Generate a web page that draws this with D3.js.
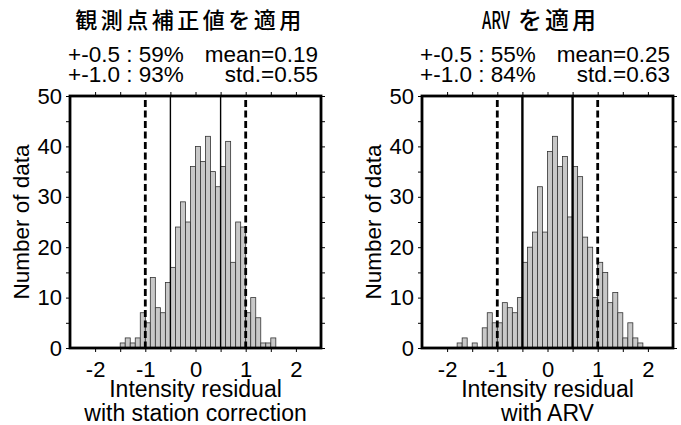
<!DOCTYPE html>
<html>
<head>
<meta charset="utf-8">
<script src="https://cdn.jsdelivr.net/npm/d3@7"></script>
<style>
  body { margin: 0; background: #fff; }
  text { font-family: "Liberation Sans", Arial, sans-serif; fill: #000; }
</style>
</head>
<body>
<div id="chart"></div>
<script>
var svgWidth = 681;
var svgHeight = 425;

// histogram data (bin width 0.1)
var binWidth = 0.1;
var stationStart = -1.5;
var stationCounts = [1, 2, 1, 2, 7, 5, 14, 8, 7, 13, 16, 24, 29, 25, 36, 40, 37, 42, 35, 32, 36, 41, 17, 25, 24, 7, 10, 6, 1, 1, 2];
var arvStart = -1.8;
var arvCounts = [1, 2, 0, 1, 0, 4, 7, 5, 5, 9, 8, 7, 10, 17, 20, 23, 32, 23, 39, 42, 36, 38, 26, 36, 34, 22, 20, 10, 17, 15, 9, 11, 7, 2, 5, 2, 1];

// texts
var titleLeft = "観測点補正値を適用";
var titleRightLatin = "ARV";
var titleRightJa = "を適用";
var rangeStats = [["+-0.5 : 59%", "+-1.0 : 93%"], ["+-0.5 : 55%", "+-1.0 : 84%"]];
var momentStats = [["mean=0.19", "std.=0.55"], ["mean=0.25", "std.=0.63"]];
var xLabels = [["Intensity residual", "with station correction"], ["Intensity residual", "with ARV"]];
var yLabel = "Number of data";

// ticks
var xTicks = [-2, -1.5, -1, -0.5, 0, 0.5, 1, 1.5, 2];
var yTicks = [0, 5, 10, 15, 20, 25, 30, 35, 40, 45, 50];
var solidLines = [-0.5, 0.5];
var dashLines = [-1, 1];

var svg = d3.select("#chart")
  .append("svg")
  .attr("width", svgWidth)
  .attr("height", svgHeight);

var panelTop = 96;
var panelHeight = 252;
var panelWidth = 251;

drawPanel(70, stationCounts, stationStart, 0, 1.4);
drawPanel(422, arvCounts, arvStart, 1, 2.4);

// titles
svg.append("text")
  .attr("x", 190)
  .attr("y", 28)
  .attr("text-anchor", "middle")
  .style("font-family", "'Noto Sans CJK JP', sans-serif")
  .style("font-size", "22px")
  .style("font-weight", 500)
  .style("letter-spacing", "3.5px")
  .text(titleLeft);

svg.append("text")
  .attr("x", 482)
  .attr("y", 29)
  .attr("textLength", 28)
  .attr("lengthAdjust", "spacingAndGlyphs")
  .style("font-family", "'Noto Sans CJK JP', sans-serif")
  .style("font-size", "24px")
  .style("font-weight", 500)
  .text(titleRightLatin);

svg.append("text")
  .attr("x", 518)
  .attr("y", 29)
  .style("font-family", "'Noto Sans CJK JP', sans-serif")
  .style("font-size", "24px")
  .style("font-weight", 500)
  .style("letter-spacing", "3px")
  .text(titleRightJa);

function drawPanel(left, counts, start, idx, solidWidth) {
  var x = d3.scaleLinear().domain([-2.5, 2.5]).range([left, left + panelWidth]);
  var y = d3.scaleLinear().domain([0, 50]).range([panelTop + panelHeight, panelTop]);

  var bins = counts.map(function(c, i) {
    var x0 = Math.round((start + i * binWidth) * 10) / 10;
    return {x0: x0, x1: x0 + binWidth, count: c};
  }).filter(d => d.count > 0);

  // bars
  svg.append("g")
    .selectAll("rect")
    .data(bins)
    .enter()
    .append("rect")
    .attr("x", d => x(d.x0))
    .attr("y", d => y(d.count))
    .attr("width", d => x(d.x1) - x(d.x0))
    .attr("height", d => y(0) - y(d.count))
    .attr("fill", "#c8c8c8")
    .attr("stroke", "#333")
    .attr("stroke-width", 0.8);

  // reference lines
  svg.append("g")
    .selectAll("line")
    .data(solidLines)
    .enter()
    .append("line")
    .attr("x1", d => x(d)).attr("x2", d => x(d))
    .attr("y1", y(50)).attr("y2", y(0))
    .attr("stroke", "#000")
    .attr("stroke-width", solidWidth);

  svg.append("g")
    .selectAll("line")
    .data(dashLines)
    .enter()
    .append("line")
    .attr("x1", d => x(d)).attr("x2", d => x(d))
    .attr("y1", y(50) + 4).attr("y2", y(0))
    .attr("stroke", "#000")
    .attr("stroke-width", 2.8)
    .attr("stroke-dasharray", "7,3.5");

  // axes
  var fmtX = d => Number.isInteger(d) ? String(d) : "";
  var fmtY = d => d % 10 === 0 ? d : "";

  var bottom = svg.append("g")
    .attr("transform", `translate(0, ${y(0)})`)
    .call(d3.axisBottom(x).tickValues(xTicks).tickSize(4).tickPadding(9).tickFormat(fmtX));
  svg.append("g")
    .attr("transform", `translate(0, ${y(50)})`)
    .call(d3.axisTop(x).tickValues(xTicks).tickSize(4).tickFormat(""));
  var leftAxis = svg.append("g")
    .attr("transform", `translate(${left}, 0)`)
    .call(d3.axisLeft(y).tickValues(yTicks).tickSize(4).tickPadding(4).tickFormat(fmtY));
  svg.append("g")
    .attr("transform", `translate(${left + panelWidth}, 0)`)
    .call(d3.axisRight(y).tickValues(yTicks).tickSize(4).tickFormat(""));

  svg.selectAll(".domain").remove();
  svg.selectAll(".tick line").attr("stroke", "#000").attr("stroke-width", 1);
  bottom.selectAll("text").attr("font-size", "22px").attr("font-family", "Liberation Sans, Arial, sans-serif");
  leftAxis.selectAll("text").attr("font-size", "22px").attr("font-family", "Liberation Sans, Arial, sans-serif");

  // frame
  svg.append("rect")
    .attr("x", left)
    .attr("y", panelTop)
    .attr("width", panelWidth)
    .attr("height", panelHeight)
    .attr("fill", "none")
    .attr("stroke", "#000")
    .attr("stroke-width", 2.8);

  var cx = left + panelWidth / 2;

  // stats
  rangeStats[idx].forEach(function(t, i) {
    svg.append("text")
      .attr("x", left - 2)
      .attr("y", 61.5 + i * 20)
      .attr("font-size", "22.5px")
      .text(t);
  });
  momentStats[idx].forEach(function(t, i) {
    svg.append("text")
      .attr("x", left + panelWidth - 3)
      .attr("y", 61.5 + i * 20)
      .attr("text-anchor", "end")
      .attr("font-size", "22.5px")
      .text(t);
  });

  // x label
  xLabels[idx].forEach(function(t, i) {
    svg.append("text")
      .attr("x", cx)
      .attr("y", 397 + i * 24)
      .attr("text-anchor", "middle")
      .attr("font-size", "23px")
      .text(t);
  });

  // y label
  svg.append("text")
    .attr("transform", `translate(${left - 41}, ${panelTop + panelHeight / 2}) rotate(-90)`)
    .attr("text-anchor", "middle")
    .attr("font-size", "22.5px")
    .text(yLabel);
}
</script>
</body>
</html>
